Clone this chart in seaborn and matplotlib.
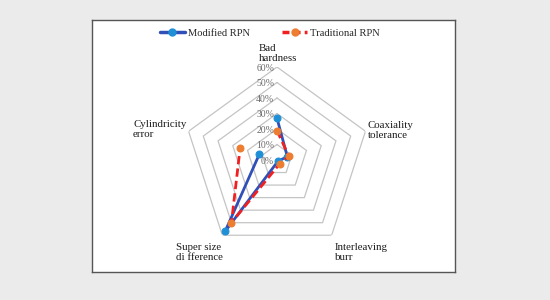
import numpy as np
import pandas as pd
import seaborn as sns
import matplotlib.pyplot as plt
import matplotlib.transforms as mtransforms
from matplotlib.lines import Line2D

# Data (percent)
categories = ['Bad\nhardness', 'Coaxiality\ntolerance', 'Interleaving\nburr',
              'Super size\ndi fference', 'Cylindricity\nerror']
modified_rpn = [27, 7, 1, 57, 12]
traditional_rpn = [19, 8, 3, 50, 25]
ring_values = [10, 20, 30, 40, 50, 60]
tick_labels = ['0%', '10%', '20%', '30%', '40%', '50%', '60%']

sns.set_theme(style='white')
plt.rcParams['font.family'] = ['Liberation Serif', 'DejaVu Serif']

W, H = 550, 300
fig = plt.figure(figsize=(5.5, 3), dpi=100)
fig.patch.set_facecolor('#ebebeb')

# white panel with border
panel = fig.add_axes([92 / W, 1 - 272 / H, 363 / W, 252 / H], zorder=0)
panel.set_facecolor('white')
panel.set_xticks([])
panel.set_yticks([])
for s in panel.spines.values():
    s.set_color('#555555')
    s.set_linewidth(1.0)

# polar axes centred on the pentagon
cx, cy, R = 277, 160, 93
ax = fig.add_axes([(cx - R) / W, 1 - (cy + R) / H, 2 * R / W, 2 * R / H], projection='polar', zorder=1)
ax.set_facecolor('none')
ax.set_theta_offset(np.pi / 2)
ax.set_theta_direction(-1)
ax.grid(False)
ax.spines['polar'].set_visible(False)

n = len(categories)
angles = np.linspace(0, 2 * np.pi, n, endpoint=False)
closed = np.append(angles, angles[0])

# pentagon gridlines
for rv in ring_values:
    ax.plot(closed, [rv] * (n + 1), color='#c4c4c4', linewidth=0.9, zorder=1)

df = pd.DataFrame({
    'theta': np.concatenate([closed, closed]),
    'value': modified_rpn + modified_rpn[:1] + traditional_rpn + traditional_rpn[:1],
    'series': ['Modified RPN'] * (n + 1) + ['Traditional RPN'] * (n + 1),
})

sns.lineplot(data=df[df.series == 'Modified RPN'], x='theta', y='value', sort=False, ax=ax,
             color='#3050b8', linewidth=2.0, marker='o', markersize=5,
             markerfacecolor='#1f8fd6', markeredgecolor='#1f8fd6', zorder=3)
sns.lineplot(data=df[df.series == 'Traditional RPN'], x='theta', y='value', sort=False, ax=ax,
             color='#f02020', linewidth=2.0, linestyle=(0, (3, 1.5)), marker='o', markersize=5,
             markerfacecolor='#ed7d31', markeredgecolor='#ed7d31', zorder=4)
ax.set_xlabel('')
ax.set_ylabel('')
ax.set_ylim(0, 60)
ax.set_xticks([])
ax.set_yticks([])

# radial tick labels along the top axis
shift = mtransforms.ScaledTranslation(-2 / 72, -1 / 72, fig.dpi_scale_trans)
for i, lab in enumerate(tick_labels):
    ax.text(0, i * 10, lab, ha='right', va='center', fontsize=7, color='#6a6a6a',
            transform=ax.transData + shift)

# category labels
label_pos = [(259, 63), (368, 140), (335, 262), (176, 262), (133, 139)]
for lab, (x, y) in zip(categories, label_pos):
    fig.text(x / W, 1 - y / H, lab, ha='left', va='bottom', fontsize=7.8,
             color='#1a1a1a', linespacing=1.15, zorder=5)

# legend
leg_handles = [
    Line2D([], [], color='#3050b8', linewidth=2.5, marker='o', markersize=5,
           markerfacecolor='#1f8fd6', markeredgecolor='#1f8fd6'),
    Line2D([], [], color='#f02020', linewidth=2.5, linestyle=(0, (2, 1.2)), marker='o', markersize=5,
           markerfacecolor='#ed7d31', markeredgecolor='#ed7d31'),
]
fig.legend(leg_handles, ['Modified RPN', 'Traditional RPN'], loc='center',
           bbox_to_anchor=(270 / W, 1 - 33 / H), ncol=2, frameon=False, fontsize=7.6,
           handlelength=2.4, columnspacing=3.0, handletextpad=0.3)

fig.savefig('out.png', dpi=100)
